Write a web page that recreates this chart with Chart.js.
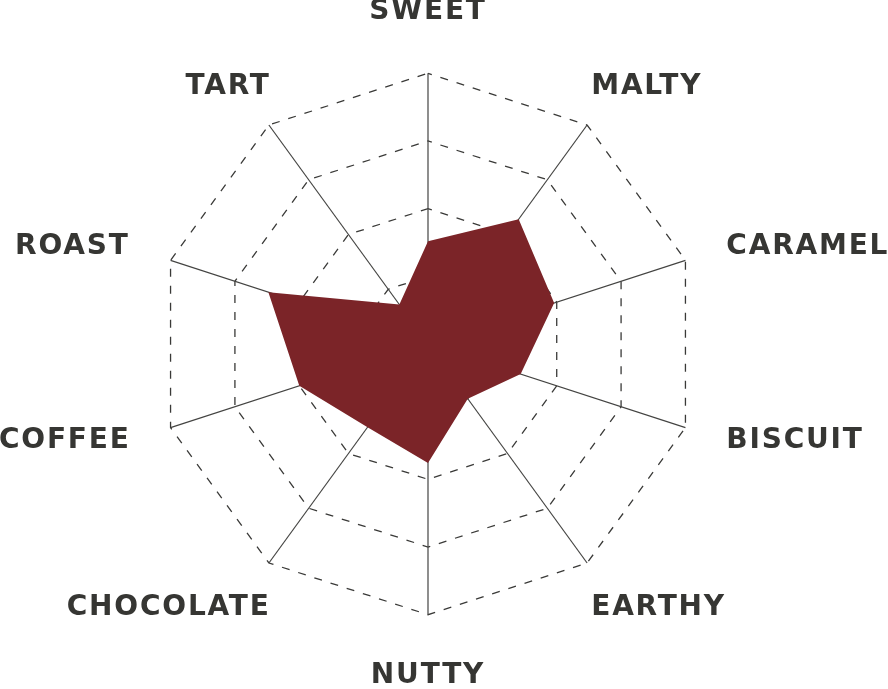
<!DOCTYPE html>
<html>
<head>
<meta charset="utf-8">
<script src="https://cdn.jsdelivr.net/npm/chart.js@4/dist/chart.umd.min.js"></script>
<style>
  html, body { margin: 0; padding: 0; background: #ffffff; }
  #wrap { width: 888px; height: 689px; position: relative; }
</style>
</head>
<body>
<div id="wrap"><canvas id="c"></canvas></div>
<script>
const categories = ['SWEET', 'MALTY', 'CARAMEL', 'BISCUIT', 'EARTHY', 'NUTTY', 'CHOCOLATE', 'COFFEE', 'ROAST', 'TART'];
const flavourValues = [38, 57, 49, 36, 25, 44, 38, 50, 62, 18];
const scaleMax = 100;
const scaleStep = 25;

// label offset from the outer ring and line box height, per label
const labelPaddings = [61, 7, 43, 43, 7, 61, -3, 42, 43, -3];
const labelLineHeights = [0.01, 2.32, 0.01, 0.01, 2.79, 0.01, 3.37, 0.01, 0.01, 2.9];

const spacingPlugin = {
  id: 'spacing',
  beforeLayout(chart) { chart.ctx.letterSpacing = '-0.66px'; },
  beforeDraw(chart) { chart.ctx.letterSpacing = '1.8px'; },
  afterDraw(chart) { chart.ctx.letterSpacing = '0px'; }
};

new Chart(document.getElementById('c'), {
  type: 'radar',
  data: {
    labels: categories,
    datasets: [{
      data: flavourValues,
      backgroundColor: '#7b2428',
      borderColor: '#7b2428',
      borderWidth: 0,
      pointRadius: 0,
      fill: true
    }]
  },
  options: {
    responsive: true,
    maintainAspectRatio: false,
    animation: false,
    layout: { padding: 0 },
    plugins: { legend: { display: false }, tooltip: { enabled: false } },
    scales: {
      r: {
        min: 0,
        max: scaleMax,
        ticks: { display: false, stepSize: scaleStep },
        grid: { color: '#3a3a38', lineWidth: 1.3 },
        border: { dash: [8, 9], dashOffset: 4 },
        angleLines: { color: '#444442', lineWidth: 1.2 },
        pointLabels: {
          color: '#363633',
          padding: (ctx) => labelPaddings[ctx.index],
          font: (ctx) => ({ family: 'DejaVu Sans', size: 28, weight: 'bold', lineHeight: labelLineHeights[ctx.index] })
        }
      }
    }
  },
  plugins: [spacingPlugin]
});
</script>
</body>
</html>
